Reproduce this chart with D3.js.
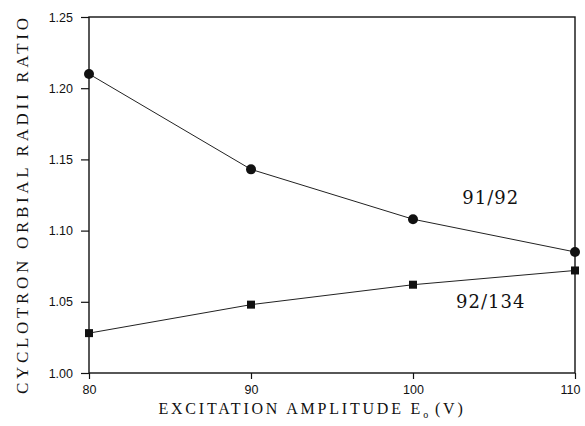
<!DOCTYPE html>
<html>
<head>
<meta charset="utf-8">
<script src="https://cdn.jsdelivr.net/npm/d3@7"></script>
<style>
  body { margin: 0; background: #fff; }
  svg text { fill: #111; }
</style>
</head>
<body>
<div id="chart"></div>
<script>
// excitation amplitude (V)
const amplitudes = [80, 90, 100, 110];
// cyclotron orbit radii ratios
const ratio9192 = [1.210, 1.143, 1.108, 1.085];
const ratio92134 = [1.028, 1.048, 1.062, 1.072];
const xTicks = [80, 90, 100, 110];
const yTicks = [1.00, 1.05, 1.10, 1.15, 1.20, 1.25];

const width = 585, height = 426;
const margin = { top: 17, right: 10, bottom: 53, left: 89 };

const svg = d3.select('#chart').append('svg')
  .attr('width', width).attr('height', height);

const x = d3.scaleLinear().domain([80, 110]).range([margin.left, width - margin.right]);
const y = d3.scaleLinear().domain([1.00, 1.25]).range([height - margin.bottom, margin.top]);

const ink = '#111';

// frame
svg.append('rect')
  .attr('x', x(80)).attr('y', y(1.25))
  .attr('width', x(110) - x(80)).attr('height', y(1.00) - y(1.25))
  .attr('fill', 'none').attr('stroke', ink).attr('stroke-width', 1.4);

// axes
const xAxis = svg.append('g')
  .attr('transform', `translate(0,${y(1.00)})`)
  .call(d3.axisBottom(x).tickValues(xTicks).tickSize(6).tickPadding(6).tickFormat(d3.format('d')));
const yAxis = svg.append('g')
  .attr('transform', `translate(${x(80)},0)`)
  .call(d3.axisLeft(y).tickValues(yTicks).tickSize(8).tickPadding(8).tickFormat(d3.format('.2f')));

[xAxis, yAxis].forEach(g => {
  g.select('.domain').remove();
  g.selectAll('line').attr('stroke', ink).attr('stroke-width', 1.2);
  g.selectAll('text')
    .attr('fill', ink)
    .style('font-family', '"Liberation Sans", Arial, sans-serif')
    .style('font-size', '12.5px');
});
xAxis.selectAll('text').attr('dx', (d, i) => i === 3 ? '-0.4em' : 0);

// series lines
const line = d3.line().x((d, i) => x(amplitudes[i])).y(d => y(d));
[ratio9192, ratio92134].forEach(s => {
  svg.append('path')
    .datum(s)
    .attr('d', line)
    .attr('fill', 'none')
    .attr('stroke', '#222')
    .attr('stroke-width', 1);
});

// markers
svg.append('g').selectAll('circle')
  .data(ratio9192)
  .join('circle')
  .attr('cx', (d, i) => x(amplitudes[i]))
  .attr('cy', d => y(d))
  .attr('r', 5)
  .attr('fill', ink);

svg.append('g').selectAll('rect')
  .data(ratio92134)
  .join('rect')
  .attr('x', (d, i) => x(amplitudes[i]) - 4)
  .attr('y', d => y(d) - 4)
  .attr('width', 8).attr('height', 8)
  .attr('fill', ink);

// series labels
svg.append('text')
  .attr('x', x(104.8)).attr('y', y(1.119))
  .attr('text-anchor', 'middle')
  .style('font-family', '"DejaVu Serif", serif')
  .style('font-size', '18px')
  .style('letter-spacing', '1px')
  .text('91/92');

svg.append('text')
  .attr('x', x(104.8)).attr('y', y(1.0456))
  .attr('text-anchor', 'middle')
  .style('font-family', '"DejaVu Serif", serif')
  .style('font-size', '18px')
  .style('letter-spacing', '1px')
  .text('92/134');

// axis titles
const xt = svg.append('text')
  .attr('x', 312).attr('y', 414)
  .attr('text-anchor', 'middle')
  .style('font-family', '"Liberation Serif", serif')
  .style('font-size', '16px')
  .style('letter-spacing', '2.8px');
xt.append('tspan').text('EXCITATION AMPLITUDE E');
xt.append('tspan').attr('dy', 4).style('font-size', '10px').style('letter-spacing', '0px').text('o');
xt.append('tspan').attr('dy', -4).text(' (V)');

svg.append('text')
  .attr('transform', 'translate(28,206) rotate(-90)')
  .attr('text-anchor', 'middle')
  .style('font-family', '"Liberation Serif", serif')
  .style('font-size', '17px')
  .attr('textLength', 376)
  .attr('lengthAdjust', 'spacing')
  .text('CYCLOTRON ORBIAL RADII RATIO');
</script>
</body>
</html>
